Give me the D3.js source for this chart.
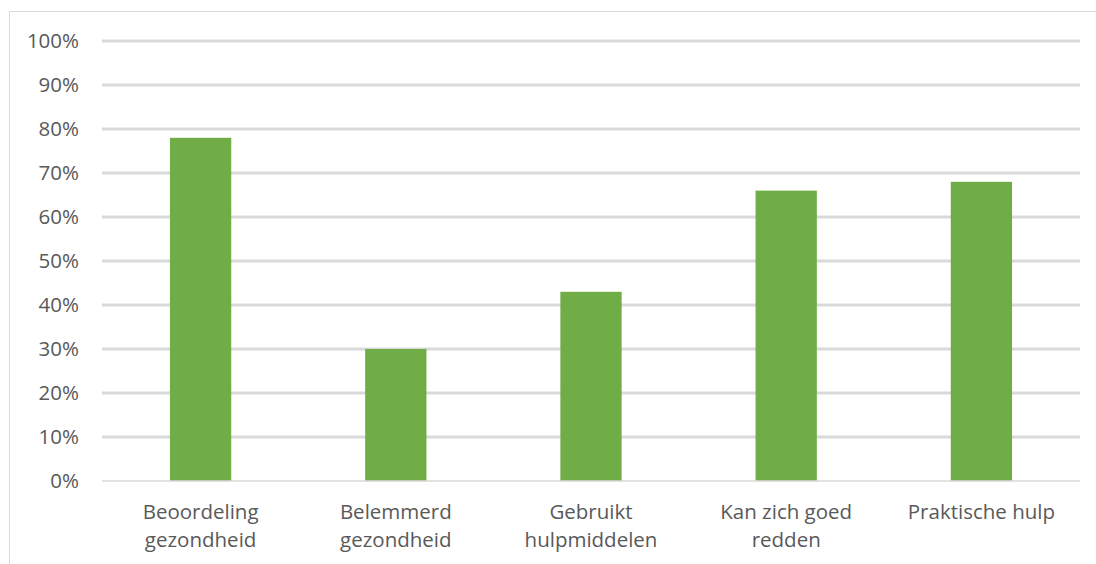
<!DOCTYPE html>
<html><head><meta charset="utf-8">
<script src="https://cdn.jsdelivr.net/npm/d3@7"></script>
<style>body{margin:0;background:#fff}svg{display:block}</style>
</head><body>
<svg id="c" width="1096" height="564"></svg>
<script>
const categories = [["Beoordeling","gezondheid"],["Belemmerd","gezondheid"],["Gebruikt","hulpmiddelen"],["Kan zich goed","redden"],["Praktische hulp"]];
const values = [78, 30, 43, 66, 68];
const yTicks = [0,10,20,30,40,50,60,70,80,90,100];

const svg = d3.select("#c");
const font = "'Open Sans', sans-serif";
svg.append("rect").attr("x",9.5).attr("y",11.5).attr("width",1200).attr("height",700)
  .attr("fill","#fff").attr("stroke","#d9d9d9").attr("stroke-width",1);

const x = d3.scaleBand().domain(d3.range(values.length)).range([103,1079]).paddingInner(0.686).paddingOuter(0.343);
const y = d3.scaleLinear().domain([0,100]).range([481,41]);

const g = svg.append("g");
g.selectAll("line.grid").data(yTicks.filter(d=>d>0)).join("line")
  .attr("x1",102).attr("x2",1080).attr("y1",d=>y(d)).attr("y2",d=>y(d))
  .attr("stroke","#d9d9d9").attr("stroke-width",3);

g.selectAll("rect.bar").data(values).join("rect")
  .attr("x",(d,i)=>x(i)).attr("width",x.bandwidth())
  .attr("y",d=>y(d)).attr("height",d=>y(0)-y(d)).attr("fill","#70ad47");

g.append("line").attr("x1",102).attr("x2",1080).attr("y1",y(0)).attr("y2",y(0))
  .attr("stroke","#d9d9d9").attr("stroke-width",1.5);

g.selectAll("text.yt").data(yTicks).join("text")
  .attr("x",79).attr("y",d=>y(d)+7).attr("text-anchor","end")
  .attr("font-family",font).attr("font-size",20.5).attr("fill","#595959")
  .text(d=>d+"%");

categories.forEach((lines,i)=>{
  const t = g.append("text").attr("text-anchor","middle")
    .attr("font-family",font).attr("font-size",20.5).attr("fill","#595959");
  lines.forEach((l,j)=>{
    t.append("tspan").attr("x",x(i)+x.bandwidth()/2).attr("y",519+j*28).text(l);
  });
});
</script>
</body></html>
